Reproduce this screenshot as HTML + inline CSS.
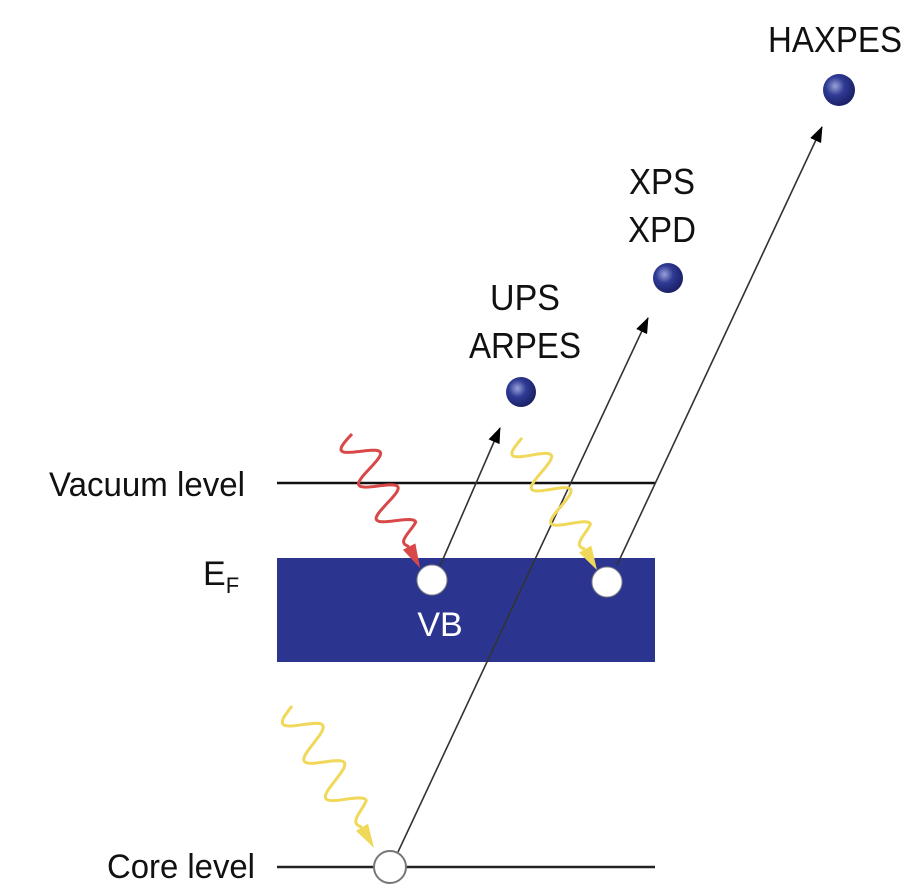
<!DOCTYPE html>
<html><head><meta charset="utf-8"><style>
html,body{margin:0;padding:0;background:#fff;}
svg{display:block;}
text{font-family:"Liberation Sans",sans-serif;fill:#111;}
</style></head><body>
<svg id="d" width="920" height="896" viewBox="0 0 920 896">
<defs>
<marker id="ah" markerWidth="16" markerHeight="12" refX="15" refY="6" orient="auto" markerUnits="userSpaceOnUse" viewBox="0 0 16 12"><path d="M0,0 L16,6 L0,12 z" fill="#000"/></marker>
<radialGradient id="eg" cx="0.38" cy="0.38" r="0.65"><stop offset="0" stop-color="#9aa2d8"/><stop offset="0.45" stop-color="#2f3a94"/><stop offset="1" stop-color="#1a2064"/></radialGradient>
</defs>
<line x1="277" y1="483" x2="655" y2="483" stroke="#111" stroke-width="2.5"/>
<rect x="277" y="558" width="378" height="104" fill="#2b3590"/>
<line x1="277" y1="867" x2="655" y2="867" stroke="#222" stroke-width="2.5"/>
<line x1="398" y1="852" x2="648" y2="318" stroke="#333" stroke-width="1.6" marker-end="url(#ah)"/>
<line x1="617" y1="565" x2="822" y2="127" stroke="#333" stroke-width="1.6" marker-end="url(#ah)"/>
<line x1="440" y1="566" x2="500" y2="428" stroke="#333" stroke-width="1.6" marker-end="url(#ah)"/>
<g id="waves"></g>
<circle cx="432" cy="580" r="15" fill="#fff" stroke="#888" stroke-width="1"/>
<circle cx="607" cy="582" r="15" fill="#fff" stroke="#888" stroke-width="1"/>
<circle cx="390" cy="867" r="16" fill="#fff" stroke="#777" stroke-width="2"/>
<circle cx="521" cy="392" r="15" fill="url(#eg)"/>
<circle cx="668" cy="278" r="15" fill="url(#eg)"/>
<circle cx="839" cy="90" r="16" fill="url(#eg)"/>
<text x="835" y="52" font-size="36" text-anchor="middle" textLength="134" lengthAdjust="spacingAndGlyphs">HAXPES</text>
<text x="662" y="194" font-size="36" text-anchor="middle" textLength="66" lengthAdjust="spacingAndGlyphs">XPS</text>
<text x="662" y="242" font-size="36" text-anchor="middle" textLength="68" lengthAdjust="spacingAndGlyphs">XPD</text>
<text x="525" y="310" font-size="36" text-anchor="middle" textLength="70" lengthAdjust="spacingAndGlyphs">UPS</text>
<text x="525" y="358" font-size="36" text-anchor="middle" textLength="112" lengthAdjust="spacingAndGlyphs">ARPES</text>
<text x="245" y="496" font-size="34" text-anchor="end" textLength="196" lengthAdjust="spacingAndGlyphs">Vacuum level</text>
<text x="203" y="585" font-size="34">E<tspan font-size="22" dy="8">F</tspan></text>
<text x="255" y="878" font-size="34" text-anchor="end" textLength="148" lengthAdjust="spacingAndGlyphs">Core level</text>
<text x="440" y="636" font-size="34" text-anchor="middle" fill="#fff" style="fill:#fff">VB</text>
</svg>
<script>
const g=document.getElementById('waves');
function wave(x1,y1,x2,y2,col,name,n){
  const dx=x2-x1,dy=y2-y1,L=Math.hypot(dx,dy),ux=dx/L,uy=dy/L,px=-uy,py=ux;
  const wl=L-24;let d='';
  for(let i=0;i<=120;i++){const t=i/120*wl;const a=(i/120<0.85?17:17*(1-(i/120-0.85)/0.15));const o=a*Math.sin(t/wl*n*2*Math.PI);
    d+=(i?'L':'M')+(x1+ux*t+px*o).toFixed(1)+','+(y1+uy*t+py*o).toFixed(1);}
  const p=document.createElementNS('http://www.w3.org/2000/svg','path');
  p.setAttribute('d',d);p.setAttribute('fill','none');p.setAttribute('stroke',col);p.setAttribute('stroke-width','3');
  
  
  g.appendChild(p);
  const bx=x1+ux*wl,by=y1+uy*wl;
  const h=document.createElementNS('http://www.w3.org/2000/svg','path');
  h.setAttribute('d',`M${x2},${y2}L${bx+px*7},${by+py*7}L${bx-px*7},${by-py*7}Z`);h.setAttribute('fill',col);
  
  
  g.appendChild(h);
}
wave(352,434,420,568,'#d94848','uv-photon',3.25);
wave(522,438,597,570,'#f0d85a','xray-photon-vb',3.25);
wave(292,706,374,848,'#f0d85a','xray-photon-core',3.25);
</script>
</body></html>
